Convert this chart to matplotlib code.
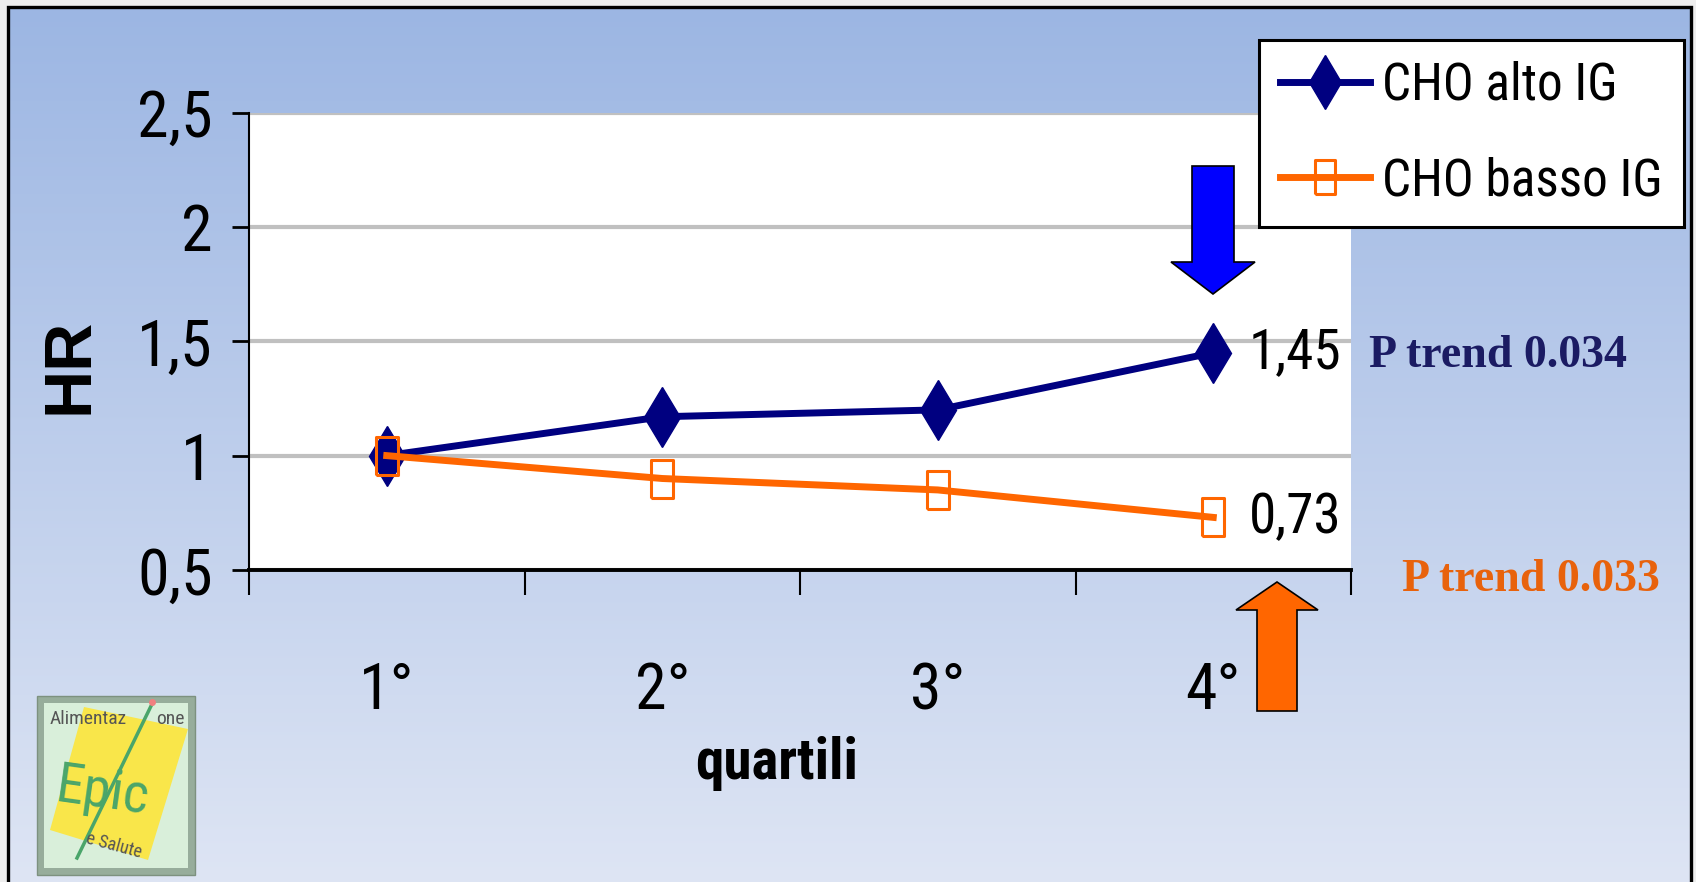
import numpy as np
import matplotlib
matplotlib.use('Agg')
import matplotlib.pyplot as plt
from matplotlib import font_manager
from matplotlib.font_manager import FontProperties
from matplotlib.textpath import TextPath
from matplotlib.patches import Polygon, Rectangle

# dati: hazard ratio per quartile di indice glicemico
quartili = ['1°', '2°', '3°', '4°']
hr_alto = [1.0, 1.17, 1.20, 1.45]
hr_basso = [1.0, 0.90, 0.85, 0.73]
y_ticks = [0.5, 1.0, 1.5, 2.0, 2.5]
y_ticklabels = ['0,5', '1', '1,5', '2', '2,5']
serie = ['CHO alto IG', 'CHO basso IG']
p_trend = ['P trend 0.034', 'P trend 0.033']


def font_stretto(bold=False):
    # cerca un sans condensato installato, altrimenti Liberation Sans
    pref = ['Liberation Sans Narrow', 'Roboto Condensed', 'Open Sans Condensed',
            'Noto Sans', 'DejaVu Sans', 'Roboto', 'Open Sans', 'Lato', 'Inter']
    best, best_rank = None, 999
    for f in font_manager.fontManager.ttflist:
        st = f.stretch
        cond = ('Narrow' in f.name or 'Condensed' in f.name
                or (isinstance(st, str) and 'condensed' in st)
                or (isinstance(st, (int, float)) and st < 500))
        if not cond or f.style != 'normal':
            continue
        w = f.weight if isinstance(f.weight, (int, float)) else \
            font_manager.weight_dict.get(f.weight, 400)
        if (w >= 600) != bold or w < 350 or w > 750:
            continue
        rank = next((i for i, p in enumerate(pref) if f.name.startswith(p)), 50)
        if any(k in f.name + str(st) for k in ('Extra', 'Ultra', 'extra', 'ultra', 'Semi', 'semi')):
            rank += 20
        if rank < best_rank:
            best, best_rank = f, rank
    if best is None:
        return FontProperties(family='Liberation Sans',
                              weight='bold' if bold else 'normal')
    return FontProperties(fname=best.fname)


fp_reg = font_stretto()
fp_bold = font_stretto(bold=True)


def misura(testo, fp, larghezza_px, massimo):
    # dimensione in punti per una data larghezza in pixel (dpi 100)
    w = TextPath((0, 0), testo, size=100, prop=fp).get_extents().width
    return min(massimo, 100 * larghezza_px * 0.72 / w)


def fp_size(fp, size):
    p = fp.copy()
    p.set_size(size)
    return p


sz_tick = misura('2,5', fp_reg, 70, 50)
sz_val = misura('1,45', fp_reg, 86, 50)
sz_leg = misura(serie[1], fp_reg, 274, 48)
sz_xlab = misura('quartili', fp_bold, 158, 48)

W, H = 1696, 882
fig = plt.figure(figsize=(W / 100, H / 100), dpi=100, facecolor='#eeeeee')

# sfondo sfumato con cornice nera
bg = fig.add_axes([0, 0, 1, 1], zorder=-5)
grad = np.linspace(0, 1, 256)[:, None, None]
top = np.array([156, 182, 227]) / 255
bot = np.array([222, 229, 244]) / 255
bg.imshow(top + grad * (bot - top), extent=(8, 1691, H, 7), aspect='auto',
          interpolation='bicubic')
bg.plot([8, 8, 1691, 1691], [H + 5, 7, 7, H + 5], color='black', lw=2.4,
        solid_joinstyle='miter')
bg.set_xlim(0, W)
bg.set_ylim(H, 0)
bg.axis('off')

# logo
bg.add_patch(Rectangle((37, 696), 158, 179, fc='#97ad9b', ec='#7d917f', lw=1))
bg.add_patch(Rectangle((44, 703), 144, 165, fc='#d9efda', ec='none'))
bg.add_patch(Polygon([(84, 707), (188, 729), (148, 860), (50, 830)],
                     fc='#f9e64a', ec='none'))
bg.plot([77, 152], [858, 704], color='#4aa56a', lw=2.5)
bg.plot([152], [702], 'o', color='#f08080', ms=4)
bg.text(50, 719, 'Alimentaz', fontproperties=fp_size(fp_reg, 14),
        color='#555555', va='center', ha='left')
bg.text(156, 719, 'one', fontproperties=fp_size(fp_reg, 14),
        color='#555555', va='center', ha='left')
bg.text(103, 792, 'Epic', fontproperties=fp_size(fp_reg, 40), color='#4aa56a',
        rotation=-8, va='center', ha='center')
bg.text(114, 846, 'e Salute', fontproperties=fp_size(fp_reg, 13),
        color='#555555', rotation=-15, va='center', ha='center')

# grafico principale
ax = fig.add_axes([249 / W, 1 - 570 / H, (1351 - 249) / W, (570 - 112.5) / H])
ax.set_facecolor('white')
x = np.arange(len(quartili))
rett = [(-0.3, -0.5), (0.3, -0.5), (0.3, 0.5), (-0.3, 0.5), (-0.3, -0.5)]
ax.plot(x, hr_alto, color='#000080', lw=5, marker='d', ms=31,
        mfc='#000080', mec='#000080', label=serie[0], zorder=3)
ax.plot(x, hr_basso, color='#ff6600', lw=5, marker=rett, ms=27,
        mfc='none', mec='#ff6600', mew=2.2, label=serie[1], zorder=4)

ax.set_xlim(-0.5, 3.5)
ax.set_ylim(0.5, 2.5)
ax.set_yticks(y_ticks, y_ticklabels)
ax.set_xticks(x, quartili)
ax.set_xticks(np.arange(-0.5, 4, 1), minor=True)
em_px = sz_tick * 100 / 72
ax.tick_params(axis='x', which='major', length=0,
               pad=(126 - 0.56 * em_px) * 0.72)
ax.tick_params(axis='x', which='minor', length=18, width=1.5)
ax.tick_params(axis='y', length=12, width=2, pad=14)
for lab in ax.get_xticklabels() + ax.get_yticklabels():
    lab.set_fontproperties(fp_size(fp_reg, sz_tick))
ax.grid(axis='y', color='#c0c0c0', lw=3)
ax.set_axisbelow(True)
for s in ['top', 'right']:
    ax.spines[s].set_visible(False)
ax.spines['bottom'].set_linewidth(2.8)
ax.spines['left'].set_linewidth(1.5)

for vals in (hr_alto, hr_basso):
    ax.text(x[-1] + 0.13, vals[-1], f'{vals[-1]:.2f}'.replace('.', ','),
            fontproperties=fp_size(fp_reg, sz_val), va='center', ha='left')

leg_em = sz_leg * 100 / 72
leg = ax.legend(loc='upper right', bbox_to_anchor=(1684 / W, 1 - 40 / H),
                bbox_transform=fig.transFigure, prop=fp_size(fp_reg, sz_leg),
                frameon=True, fancybox=False, edgecolor='black', framealpha=1,
                handlelength=90 / leg_em, handletextpad=12 / leg_em,
                borderpad=21 / leg_em, labelspacing=(104 - 1.15 * leg_em) / leg_em,
                borderaxespad=0, markerscale=0.9)
leg.get_frame().set_linewidth(2.2)

fig.text(777 / W, 1 - 779 / H, 'quartili', ha='center', va='baseline',
         fontproperties=fp_size(fp_bold, sz_xlab))
fig.text(70 / W, 1 - 366 / H, 'HR', rotation=90, ha='center', va='center',
         fontsize=48, fontweight='bold', family='Liberation Sans')
fig.text(1369 / W, 1 - 367 / H, p_trend[0], ha='left', va='baseline',
         fontsize=33, fontweight='bold', family='Liberation Serif', color='#1b1b63')
fig.text(1402 / W, 1 - 591 / H, p_trend[1], ha='left', va='baseline',
         fontsize=33, fontweight='bold', family='Liberation Serif', color='#e8620c')

# frecce
ov = fig.add_axes([0, 0, 1, 1], zorder=10)
ov.set_xlim(0, W)
ov.set_ylim(H, 0)
ov.axis('off')
ov.patch.set_alpha(0)
ov.add_patch(Polygon([(1192, 166), (1234, 166), (1234, 262), (1255, 262),
                      (1213, 294), (1171, 262), (1192, 262)],
                     fc='#0000ff', ec='black', lw=1.2))
ov.add_patch(Polygon([(1257, 711), (1297, 711), (1297, 610), (1318, 610),
                      (1277, 582), (1236, 610), (1257, 610)],
                     fc='#ff6600', ec='black', lw=1.2))

fig.savefig('out.png', dpi=100, facecolor=fig.get_facecolor())
